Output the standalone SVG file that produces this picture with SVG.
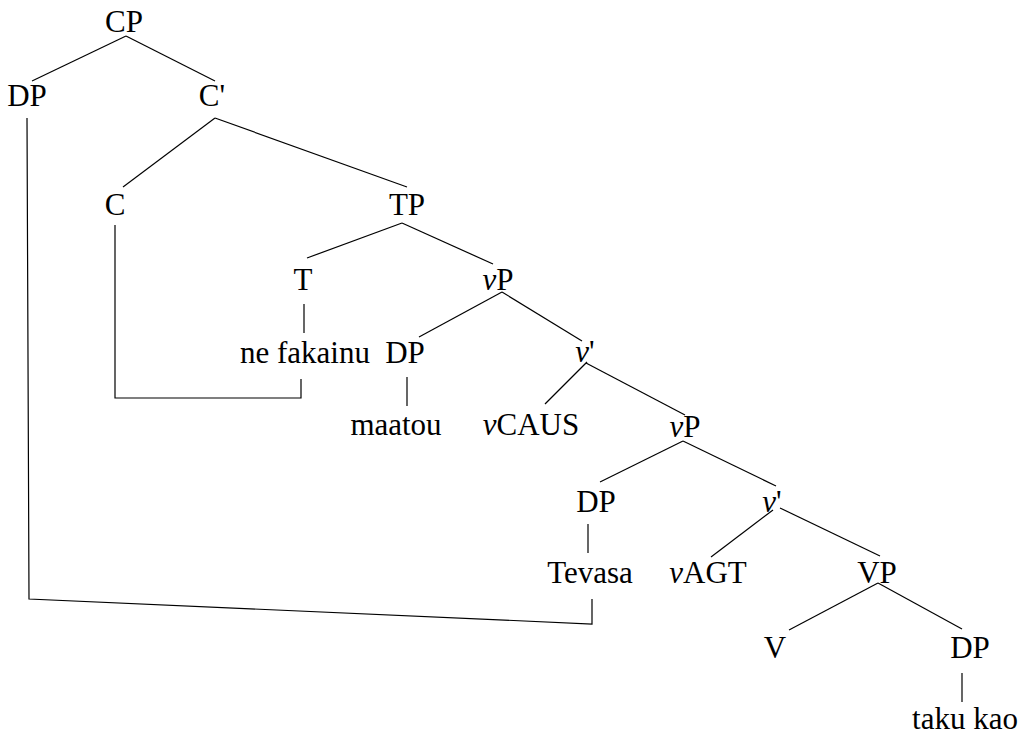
<svg xmlns="http://www.w3.org/2000/svg" width="1029" height="736" viewBox="0 0 1029 736">
<style>
.t{font-family:'Liberation Serif','Times New Roman',Times,'DejaVu Serif',serif;font-size:31px;fill:#000;text-anchor:middle}
.i{font-style:italic}
.c line,.c polyline{stroke:#000;stroke-width:1.2;fill:none}
</style>
<rect width="1029" height="736" fill="#fff"/>
<g class="c" id="connectors">
<line x1="126" y1="36" x2="32" y2="81"/>
<line x1="126" y1="36" x2="215" y2="81"/>
<line x1="215" y1="118" x2="123" y2="187"/>
<line x1="215" y1="118" x2="407" y2="187"/>
<line x1="402" y1="223" x2="307" y2="258"/>
<line x1="402" y1="223" x2="493" y2="264"/>
<line x1="304" y1="304" x2="304" y2="333"/>
<line x1="502" y1="292" x2="419" y2="337"/>
<line x1="502" y1="292" x2="582" y2="341"/>
<line x1="407" y1="377" x2="407" y2="406"/>
<line x1="587" y1="362" x2="545" y2="404"/>
<line x1="586" y1="363" x2="685" y2="415"/>
<line x1="683" y1="441" x2="600" y2="482"/>
<line x1="683" y1="441" x2="776" y2="486"/>
<line x1="588" y1="524" x2="588" y2="553"/>
<line x1="773" y1="510" x2="711" y2="557"/>
<line x1="780" y1="508" x2="880" y2="556"/>
<line x1="878" y1="583" x2="789" y2="630"/>
<line x1="878" y1="583" x2="962" y2="629"/>
<line x1="962" y1="673" x2="962" y2="702"/>
<polyline points="115,225 115,398 301,398 301,379"/>
<polyline points="27,118 29,599 592,624 592,599"/>
</g>
<g id="n-CP"><text class="t" x="124" y="32">CP</text></g>
<g id="n-DP1"><text class="t" x="27" y="106">DP</text></g>
<g id="n-C1"><text class="t" x="212" y="106">C'</text></g>
<g id="n-C"><text class="t" x="115" y="215">C</text></g>
<g id="n-TP"><text class="t" x="407" y="215">TP</text></g>
<g id="n-T"><text class="t" x="303" y="290">T</text></g>
<g id="n-vP1"><text class="t" x="498" y="290"><tspan class="i">v</tspan>P</text></g>
<g id="n-nefakainu"><text class="t" x="305" y="363">ne fakainu</text></g>
<g id="n-DP2"><text class="t" x="405" y="363">DP</text></g>
<g id="n-v1"><text class="t" x="585" y="362"><tspan class="i">v</tspan>'</text></g>
<g id="n-maatou"><text class="t" x="396" y="435">maatou</text></g>
<g id="n-vCAUS"><text class="t" x="531" y="435"><tspan class="i">v</tspan>CAUS</text></g>
<g id="n-vP2"><text class="t" x="685" y="437"><tspan class="i">v</tspan>P</text></g>
<g id="n-DP3"><text class="t" x="596" y="512">DP</text></g>
<g id="n-v2"><text class="t" x="772" y="512"><tspan class="i">v</tspan>'</text></g>
<g id="n-Tevasa"><text class="t" x="590" y="583">Tevasa</text></g>
<g id="n-vAGT"><text class="t" x="708" y="583"><tspan class="i">v</tspan>AGT</text></g>
<g id="n-VP"><text class="t" x="877" y="583">VP</text></g>
<g id="n-V"><text class="t" x="775" y="658">V</text></g>
<g id="n-DP4"><text class="t" x="970" y="658">DP</text></g>
<g id="n-takukao"><text class="t" x="965" y="729">taku kao</text></g>
</svg>
